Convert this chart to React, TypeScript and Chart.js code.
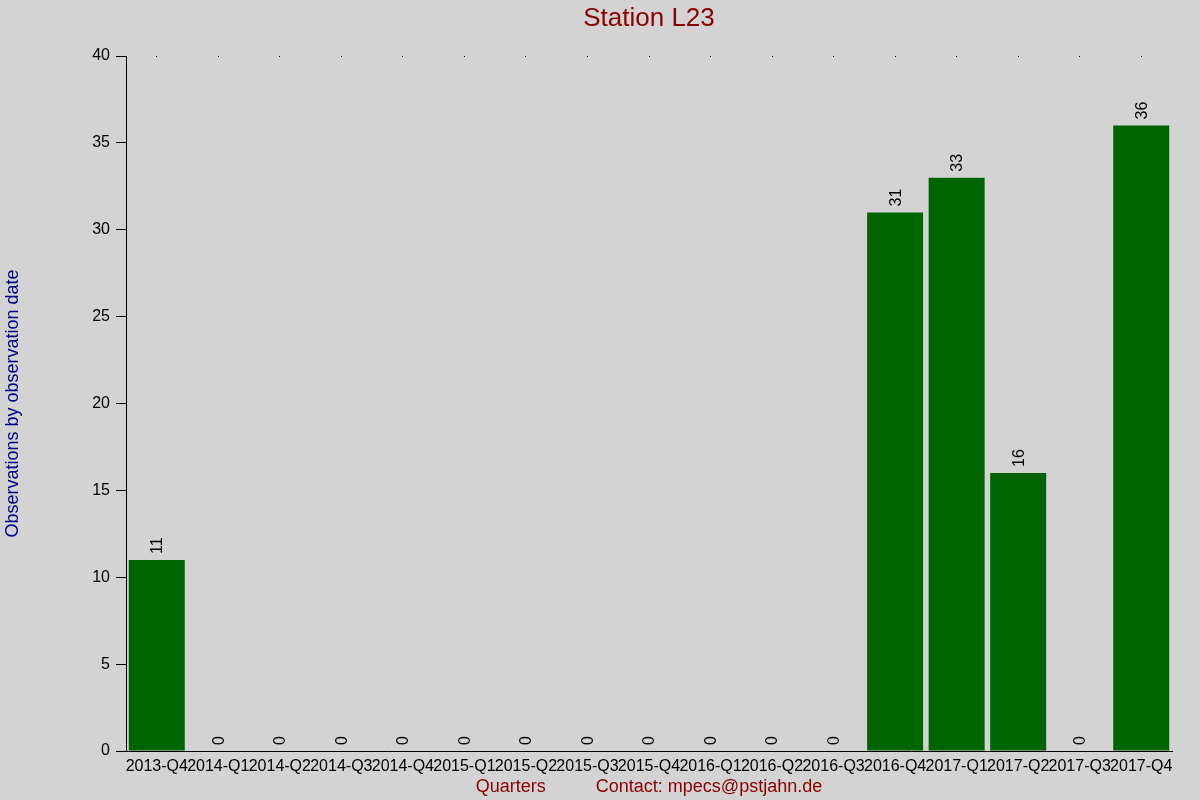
import React, { useEffect, useRef } from 'react';
import { Chart, registerables } from 'chart.js';

Chart.register(...registerables);

const quarters = [
  '2013-Q4',
  '2014-Q1', '2014-Q2', '2014-Q3', '2014-Q4',
  '2015-Q1', '2015-Q2', '2015-Q3', '2015-Q4',
  '2016-Q1', '2016-Q2', '2016-Q3', '2016-Q4',
  '2017-Q1', '2017-Q2', '2017-Q3', '2017-Q4',
];
const observations = [11, 0, 0, 0, 0, 0, 0, 0, 0, 0, 0, 0, 31, 33, 16, 0, 36];

const FONT = '"Liberation Sans", Arial, sans-serif';

// rotated value labels above each bar
const barLabels = {
  id: 'barLabels',
  afterDatasetsDraw(chart: any) {
    const ctx = chart.ctx;
    const meta = chart.getDatasetMeta(0);
    const values = chart.data.datasets[0].data as number[];
    ctx.save();
    ctx.font = `16px ${FONT}`;
    ctx.fillStyle = '#000000';
    ctx.textAlign = 'left';
    ctx.textBaseline = 'middle';
    meta.data.forEach((bar: any, i: number) => {
      ctx.save();
      ctx.translate(bar.x + 1, bar.y - 6);
      ctx.rotate(-Math.PI / 2);
      ctx.fillText(String(values[i]), 0, 0);
      ctx.restore();
    });
    ctx.restore();
  },
};

const App: React.FC = () => {
  const canvasRef = useRef<HTMLCanvasElement>(null);
  const chartRef = useRef<Chart | null>(null);

  useEffect(() => {
    document.body.style.margin = '0';
    if (!canvasRef.current) return;
    const ctx = canvasRef.current.getContext('2d');
    if (!ctx) return;

    chartRef.current = new Chart(ctx, {
      type: 'bar',
      data: {
        labels: quarters,
        datasets: [
          {
            data: observations,
            backgroundColor: '#006400',
            borderWidth: 0,
            barPercentage: 0.91,
            categoryPercentage: 1,
          },
        ],
      },
      options: {
        responsive: false,
        animation: false,
        layout: { padding: { left: 0, right: 28, top: 0, bottom: 0 } },
        plugins: {
          legend: { display: false },
          tooltip: { enabled: false },
          title: {
            display: true,
            fullSize: false,
            text: 'Station L23',
            color: '#8B0000',
            font: { family: FONT, size: 26, weight: 'normal' },
            padding: { top: 3, bottom: 21.8 },
          },
        },
        scales: {
          x: {
            afterFit: (scale: any) => {
              scale.height = 49;
            },
            border: { display: true, color: '#000000', width: 1, dash: [1, 2000] },
            grid: {
              display: true,
              offset: false,
              drawOnChartArea: true,
              drawTicks: false,
              color: '#000000',
              lineWidth: 1,
            },
            ticks: {
              color: '#000000',
              font: { family: FONT, size: 16 },
              padding: 6,
              maxRotation: 0,
              autoSkip: false,
            },
            title: {
              display: true,
              text: 'Quarters          Contact: mpecs@pstjahn.de',
              color: '#8B0000',
              font: { family: FONT, size: 18 },
              padding: { top: 0, bottom: 2 },
            },
          },
          y: {
            min: 0,
            max: 40,
            afterFit: (scale: any) => {
              scale.width = 126;
            },
            border: { display: true, color: '#000000', width: 1 },
            grid: {
              display: true,
              drawOnChartArea: false,
              drawTicks: true,
              tickLength: 10,
              color: '#000000',
            },
            ticks: {
              stepSize: 5,
              color: '#000000',
              font: { family: FONT, size: 16 },
              padding: 6,
            },
            title: {
              display: true,
              text: 'Observations by observation date',
              color: '#00008B',
              font: { family: FONT, size: 18 },
              padding: { top: 2, bottom: 0 },
            },
          },
        },
      } as any,
      plugins: [barLabels],
    });

    return () => {
      chartRef.current?.destroy();
      chartRef.current = null;
    };
  }, []);

  return (
    <div style={{ width: 1200, height: 800, background: '#d3d3d3' }}>
      <canvas ref={canvasRef} width={1200} height={800}></canvas>
    </div>
  );
};

export default App;
